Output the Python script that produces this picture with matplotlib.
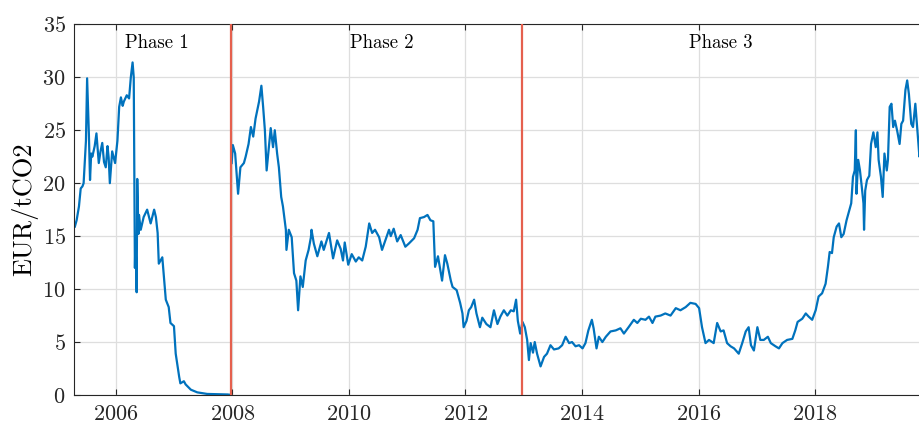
import matplotlib
matplotlib.use("Agg")
import matplotlib.pyplot as plt

plt.rcParams["font.family"] = ["cmr10", "DejaVu Serif"]
plt.rcParams["mathtext.fontset"] = "cm"
plt.rcParams["axes.formatter.use_mathtext"] = True

# EUA price (decimal years, EUR/tCO2)
p1_t = [2005.30, 2005.33, 2005.37, 2005.40, 2005.43, 2005.45, 2005.47, 2005.49,
        2005.51, 2005.54, 2005.56, 2005.58, 2005.60, 2005.64, 2005.67, 2005.71,
        2005.74, 2005.77, 2005.80, 2005.83, 2005.86, 2005.88, 2005.90, 2005.94,
        2005.99, 2006.03, 2006.06, 2006.09, 2006.12, 2006.14, 2006.19, 2006.23,
        2006.26, 2006.29, 2006.31, 2006.33, 2006.34, 2006.36, 2006.37, 2006.39,
        2006.40, 2006.43, 2006.48, 2006.54, 2006.60, 2006.66, 2006.69, 2006.72,
        2006.74, 2006.80, 2006.86, 2006.91, 2006.94, 2007.00, 2007.03, 2007.09,
        2007.11, 2007.17, 2007.20, 2007.29, 2007.40, 2007.57, 2007.92, 2007.97]
p1_v = [15.9, 16.5, 17.8, 19.5, 19.7, 20.0, 22.0, 24.0,
        29.9, 24.7, 20.3, 22.8, 22.5, 23.5, 24.7, 21.9,
        23.0, 23.8, 22.0, 21.5, 23.5, 22.4, 20.0, 23.0,
        21.9, 24.0, 27.2, 28.1, 27.3, 27.7, 28.3, 28.0,
        30.0, 31.4, 30.0, 12.0, 15.0, 9.7, 20.4, 15.2,
        17.0, 15.6, 16.8, 17.5, 16.2, 17.5, 16.8, 15.3,
        12.4, 13.0, 9.0, 8.3, 6.8, 6.5, 3.9, 1.7,
        1.1, 1.3, 1.0, 0.5, 0.25, 0.1, 0.05, 0.02]

p2_t = [2007.99, 2008.01, 2008.05, 2008.10, 2008.14, 2008.20, 2008.23, 2008.28,
        2008.32, 2008.36, 2008.40, 2008.46, 2008.50, 2008.53, 2008.56, 2008.59,
        2008.66, 2008.70, 2008.73, 2008.77, 2008.80, 2008.84, 2008.87, 2008.92,
        2008.93, 2008.97, 2009.02, 2009.06, 2009.10, 2009.13, 2009.17, 2009.21,
        2009.26, 2009.31, 2009.35, 2009.36, 2009.40, 2009.46, 2009.53, 2009.57,
        2009.66, 2009.73, 2009.80, 2009.86, 2009.90, 2009.93, 2009.99, 2010.05,
        2010.12, 2010.17, 2010.23, 2010.29, 2010.35, 2010.40, 2010.45, 2010.52,
        2010.57, 2010.62, 2010.69, 2010.72, 2010.77, 2010.83, 2010.89, 2010.97,
        2011.03, 2011.12, 2011.18, 2011.22, 2011.29, 2011.35, 2011.40, 2011.45,
        2011.48, 2011.53, 2011.57, 2011.60, 2011.65, 2011.69, 2011.75, 2011.78,
        2011.85, 2011.91, 2011.95, 2011.97, 2012.02, 2012.06, 2012.10, 2012.15,
        2012.19, 2012.25, 2012.29, 2012.36, 2012.43, 2012.49, 2012.55, 2012.60,
        2012.66, 2012.72, 2012.78, 2012.83, 2012.87, 2012.90, 2012.94, 2012.98]
p2_v = [21.9, 23.6, 22.8, 19.0, 21.5, 21.9, 22.5, 23.7,
        25.3, 24.4, 26.1, 27.7, 29.2, 27.2, 25.0, 21.2,
        25.2, 23.4, 25.0, 22.8, 21.5, 18.7, 17.8, 15.6,
        13.7, 15.6, 14.9, 11.5, 10.8, 8.0, 11.2, 10.2,
        12.7, 13.7, 14.9, 15.6, 14.3, 13.1, 14.5, 13.7,
        15.3, 12.9, 14.6, 13.8, 12.7, 14.4, 12.3, 13.3,
        12.6, 13.0, 12.7, 14.0, 16.2, 15.3, 15.6, 14.9,
        13.7, 14.5, 15.6, 15.0, 15.7, 14.5, 15.1, 14.0,
        14.3, 14.8, 15.6, 16.7, 16.8, 17.0, 16.5, 16.4,
        12.1, 13.1, 11.8, 10.8, 13.2, 12.4, 10.8, 10.2,
        9.9, 8.7, 7.7, 6.4, 7.0, 8.0, 8.3, 9.0,
        7.7, 6.4, 7.3, 6.7, 6.4, 8.0, 6.7, 7.4,
        8.0, 7.5, 8.0, 7.9, 9.0, 7.0, 5.8, 6.9]

p3_t = [2013.02, 2013.06, 2013.09, 2013.12, 2013.16, 2013.19, 2013.23, 2013.29,
        2013.35, 2013.40, 2013.46, 2013.52, 2013.60, 2013.66, 2013.72, 2013.78,
        2013.83, 2013.89, 2013.95, 2014.01, 2014.06, 2014.11, 2014.17, 2014.20,
        2014.25, 2014.29, 2014.35, 2014.41, 2014.49, 2014.58, 2014.66, 2014.72,
        2014.80, 2014.89, 2014.95, 2015.01, 2015.09, 2015.15, 2015.21, 2015.26,
        2015.35, 2015.43, 2015.52, 2015.61, 2015.69, 2015.78, 2015.86, 2015.95,
        2016.01, 2016.06, 2016.12, 2016.18, 2016.26, 2016.32, 2016.38, 2016.43,
        2016.49, 2016.55, 2016.61, 2016.69, 2016.75, 2016.81, 2016.86, 2016.90,
        2016.95, 2017.01, 2017.06, 2017.12, 2017.19, 2017.24, 2017.32, 2017.38,
        2017.44, 2017.52, 2017.61, 2017.66, 2017.70, 2017.78, 2017.84, 2017.89,
        2017.95, 2018.01, 2018.06, 2018.12, 2018.18, 2018.22, 2018.25, 2018.29,
        2018.32, 2018.37, 2018.41, 2018.45, 2018.49, 2018.54, 2018.58, 2018.62,
        2018.65, 2018.68, 2018.70, 2018.71, 2018.74, 2018.77, 2018.80, 2018.83,
        2018.84, 2018.86, 2018.89, 2018.93, 2018.96, 2019.00, 2019.04, 2019.07,
        2019.09, 2019.13, 2019.16, 2019.19, 2019.23, 2019.25, 2019.28, 2019.31,
        2019.34, 2019.37, 2019.41, 2019.45, 2019.48, 2019.51, 2019.55, 2019.58,
        2019.61, 2019.65, 2019.68, 2019.72, 2019.75, 2019.79, 2019.81]
p3_v = [6.4, 5.2, 3.3, 4.9, 4.0, 5.0, 3.9, 2.7,
        3.6, 3.9, 4.7, 4.3, 4.4, 4.7, 5.5, 4.9,
        5.0, 4.6, 4.7, 4.4, 4.9, 6.1, 7.1, 6.3,
        4.4, 5.5, 5.0, 5.5, 6.0, 6.1, 6.3, 5.8,
        6.4, 7.1, 6.8, 7.2, 7.1, 7.4, 6.8, 7.4,
        7.5, 7.7, 7.5, 8.2, 8.0, 8.3, 8.7, 8.6,
        8.2, 6.4, 4.9, 5.2, 4.9, 6.8, 6.0, 6.1,
        4.9, 4.6, 4.4, 3.9, 4.9, 6.0, 6.4, 4.7,
        4.2, 6.4, 5.2, 5.2, 5.5, 4.9, 4.6, 4.4,
        4.9, 5.2, 5.3, 6.1, 6.9, 7.2, 7.7, 7.4,
        7.1, 8.0, 9.3, 9.6, 10.5, 12.1, 13.5, 13.4,
        14.9, 15.9, 16.2, 14.9, 15.2, 16.5, 17.3, 18.1,
        20.6, 21.2, 25.0, 19.0, 22.2, 21.2, 19.7, 18.1,
        15.6, 19.3, 20.3, 20.7, 23.7, 24.8, 23.4, 24.8,
        22.2, 20.6, 18.7, 22.8, 21.2, 22.2, 27.2, 27.5,
        25.3, 25.9, 24.9, 23.7, 25.6, 25.9, 28.8, 29.7,
        28.4, 25.6, 25.3, 27.5, 25.3, 22.5, 26.0]

phase_breaks = [2007.98, 2012.97]
phase_labels = ["Phase 1", "Phase 2", "Phase 3"]
label_x = [2006.70, 2010.56, 2016.38]

blue = "#0072BD"
red = "#e5604e"

fig = plt.figure(figsize=(9.2, 4.23), dpi=100)
ax = fig.add_axes([74 / 920, 1 - 395 / 423, 1 - 74 / 920, (395 - 24.3) / 423])

ax.plot(p1_t, p1_v, color=blue, lw=1.6)
ax.plot(p2_t + p3_t, p2_v + p3_v, color=blue, lw=1.6)
for xb in phase_breaks:
    ax.axvline(xb, color=red, lw=1.6, zorder=3)
for lab, xl in zip(phase_labels, label_x):
    ax.text(xl, 33.2, lab, ha="center", va="center", fontsize=13.5, color="k")

ax.set_xlim(2005.285, 2019.80)
ax.set_ylim(0, 35)
ax.set_xticks([2006, 2008, 2010, 2012, 2014, 2016, 2018])
ax.set_yticks([0, 5, 10, 15, 20, 25, 30, 35])
ax.set_ylabel("EUR/tCO2", fontsize=19, labelpad=3)

ax.grid(True, color="#dedede", lw=0.9)
ax.set_axisbelow(True)
ax.tick_params(direction="in", top=True, length=4, width=0.8, labelsize=16,
               color="#262626", labelcolor="#262626")
ax.tick_params(axis="x", pad=7)
ax.tick_params(axis="y", pad=6)
for s in ["left", "top", "bottom"]:
    ax.spines[s].set_color("#262626")
    ax.spines[s].set_linewidth(0.8)
ax.spines["right"].set_visible(False)

fig.savefig("out.png", dpi=100)
